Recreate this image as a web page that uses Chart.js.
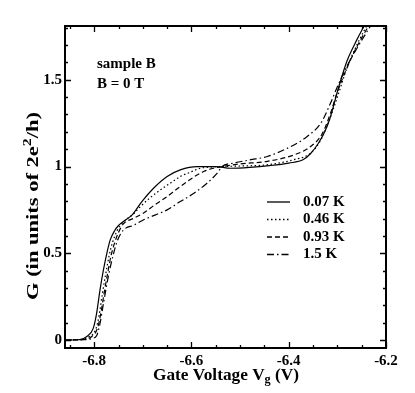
<!DOCTYPE html>
<html>
<head>
<meta charset="utf-8">
<script src="https://cdn.jsdelivr.net/npm/chart.js@4.4.1/dist/chart.umd.min.js"></script>
<style>
  html, body { margin: 0; padding: 0; background: #fff; }
  #wrap { width: 415px; height: 393px; }
</style>
</head>
<body>
<div id="wrap"><canvas id="chart" width="415" height="393"></canvas></div>
<script>
// temperatures (legend labels)
const seriesLabels = ['0.07 K', '0.46 K', '0.93 K', '1.5 K'];

// gate voltage (V) and conductance (2e^2/h) for each temperature
const v007 = [-6.86, -6.83, -6.815, -6.802, -6.795, -6.788, -6.781, -6.774, -6.767, -6.758, -6.750, -6.740, -6.722, -6.702, -6.678, -6.650, -6.623, -6.588, -6.55, -6.52, -6.48, -6.44, -6.40, -6.37, -6.355, -6.34, -6.326, -6.315, -6.305, -6.295, -6.28, -6.26, -6.245];
const g007 = [0, 0.003, 0.02, 0.067, 0.154, 0.289, 0.404, 0.5, 0.577, 0.63, 0.66, 0.683, 0.721, 0.798, 0.875, 0.943, 0.981, 1.0, 1.0, 0.99, 0.995, 1.005, 1.02, 1.04, 1.075, 1.13, 1.2, 1.28, 1.38, 1.48, 1.61, 1.73, 1.81];

const v046 = [-6.86, -6.825, -6.81, -6.797, -6.79, -6.783, -6.776, -6.769, -6.762, -6.753, -6.74, -6.72, -6.705, -6.685, -6.664, -6.643, -6.623, -6.60, -6.582, -6.56, -6.537, -6.50, -6.444, -6.389, -6.355, -6.334, -6.319, -6.30, -6.28, -6.26, -6.24];
const g046 = [0, 0.003, 0.02, 0.06, 0.14, 0.27, 0.385, 0.49, 0.565, 0.63, 0.68, 0.725, 0.769, 0.82, 0.865, 0.905, 0.942, 0.97, 0.99, 0.997, 1.0, 1.003, 1.01, 1.04, 1.077, 1.154, 1.25, 1.40, 1.57, 1.70, 1.81];

const v093 = [-6.86, -6.822, -6.805, -6.793, -6.786, -6.779, -6.772, -6.765, -6.758, -6.75, -6.74, -6.72, -6.699, -6.675, -6.65, -6.63, -6.609, -6.592, -6.575, -6.555, -6.537, -6.50, -6.444, -6.389, -6.355, -6.331, -6.314, -6.30, -6.28, -6.26, -6.236];
const g093 = [0, 0.003, 0.02, 0.07, 0.16, 0.28, 0.39, 0.49, 0.56, 0.62, 0.67, 0.70, 0.731, 0.78, 0.827, 0.87, 0.913, 0.945, 0.971, 0.99, 1.0, 1.015, 1.03, 1.067, 1.115, 1.19, 1.308, 1.43, 1.57, 1.69, 1.81];

const v150 = [-6.86, -6.82, -6.803, -6.795, -6.788, -6.781, -6.771, -6.760, -6.753, -6.745, -6.735, -6.72, -6.699, -6.675, -6.65, -6.623, -6.595, -6.568, -6.547, -6.537, -6.513, -6.48, -6.444, -6.396, -6.362, -6.334, -6.314, -6.30, -6.28, -6.26, -6.232];
const g150 = [0, 0.002, 0.01, 0.025, 0.096, 0.21, 0.365, 0.5, 0.567, 0.615, 0.645, 0.66, 0.692, 0.72, 0.75, 0.798, 0.846, 0.904, 0.962, 1.0, 1.02, 1.038, 1.058, 1.115, 1.173, 1.25, 1.366, 1.46, 1.58, 1.68, 1.81];

// axis tick labels
const xTicks = [-6.8, -6.6, -6.4, -6.2];
const yTicks = [0, 0.5, 1, 1.5];

const dashes = [[], [1.5, 2.5], [5, 3], [7, 3, 1.5, 3]];
const FONT = '"Liberation Serif", "Times New Roman", serif';

function pts(vs, gs) {
    return vs.map(function (v, i) { return { x: v, y: gs[i] }; });
}

const allSeries = [pts(v007, g007), pts(v046, g046), pts(v093, g093), pts(v150, g150)];

// draws a run of [text, size, dy] pieces starting at x, returns total width
function drawPieces(ctx, pieces, x, y, measureOnly) {
    let w = 0;
    pieces.forEach(function (p) {
        ctx.font = 'bold ' + p[1] + 'px ' + FONT;
        if (!measureOnly) ctx.fillText(p[0], x + w, y + p[2]);
        w += ctx.measureText(p[0]).width;
    });
    return w;
}

// frame, inward ticks, titles, note and legend drawn by hand
const decor = {
    id: 'decor',
    afterDraw: function (chart) {
        const ctx = chart.ctx;
        const a = chart.chartArea;
        const xs = chart.scales.x, ys = chart.scales.y;
        ctx.save();
        ctx.strokeStyle = '#000';
        ctx.fillStyle = '#000';

        // ticks on all four sides, pointing in
        ctx.lineWidth = 1.3;
        ctx.beginPath();
        for (let k = -137; k <= -124; k++) {
            const v = k * 0.05;
            if (v < xs.min - 1e-9 || v > xs.max + 1e-9) continue;
            const px = Math.round(xs.getPixelForValue(v)) + 0.5;
            const major = Math.abs(Math.round(v * 5) - v * 5) < 1e-6;
            const len = major ? 6 : 3;
            ctx.moveTo(px, a.bottom); ctx.lineTo(px, a.bottom - len);
            ctx.moveTo(px, a.top); ctx.lineTo(px, a.top + len);
        }
        for (let k = 0; k <= 18; k++) {
            const v = k * 0.1;
            if (v > ys.max + 1e-9) continue;
            const py = Math.round(ys.getPixelForValue(v)) + 0.5;
            const len = (k % 5 === 0) ? 6 : 3;
            ctx.moveTo(a.left, py); ctx.lineTo(a.left + len, py);
            ctx.moveTo(a.right, py); ctx.lineTo(a.right - len, py);
        }
        ctx.stroke();

        // frame
        ctx.lineWidth = 2;
        ctx.strokeRect(a.left, a.top, a.right - a.left, a.bottom - a.top);

        // x title with subscript
        ctx.textBaseline = 'alphabetic';
        const xt = [['Gate Voltage V', 17, 0], ['g', 12, 3], [' (V)', 17, 0]];
        const xw = drawPieces(ctx, xt, 0, 0, true);
        ctx.save();
        ctx.translate(226, 380);
        ctx.scale(146 / xw, 1);
        drawPieces(ctx, xt, -xw / 2, 0, false);
        ctx.restore();

        // y title with superscript, rotated and stretched to the reference length
        const yt = [['G (in units of 2e', 17, 0], ['2', 12, -7], ['/h)', 17, 0]];
        const yw = drawPieces(ctx, yt, 0, 0, true);
        ctx.save();
        ctx.translate(38, 206);
        ctx.rotate(-Math.PI / 2);
        ctx.scale(188 / yw, 1);
        drawPieces(ctx, yt, -yw / 2, 0, false);
        ctx.restore();

        // note
        ctx.font = 'bold 15px ' + FONT;
        ctx.textBaseline = 'middle';
        ctx.fillText('sample B', 97, 64);
        ctx.fillText('B = 0 T', 97, 84);

        // legend
        ctx.lineWidth = 1.3;
        for (let i = 0; i < seriesLabels.length; i++) {
            const ly = 202 + i * 17.5;
            ctx.setLineDash(dashes[i]);
            ctx.beginPath();
            ctx.moveTo(267, ly); ctx.lineTo(290, ly);
            ctx.stroke();
            ctx.setLineDash([]);
            ctx.fillText(seriesLabels[i], 303, ly);
        }
        ctx.restore();
    }
};

const ctx = document.getElementById('chart').getContext('2d');
const chart = new Chart(ctx, {
    type: 'line',
    data: {
        datasets: allSeries.map(function (d, i) {
            return {
                label: seriesLabels[i],
                data: d,
                borderColor: '#000',
                borderWidth: 1.2,
                borderDash: dashes[i],
                pointRadius: 0,
                fill: false,
                cubicInterpolationMode: 'monotone'
            };
        })
    },
    options: {
        responsive: false,
        animation: false,
        layout: { padding: { left: 0, right: 29, top: 26, bottom: 0 } },
        plugins: {
            legend: { display: false },
            tooltip: { enabled: false }
        },
        scales: {
            x: {
                type: 'linear',
                min: -6.86,
                max: -6.2,
                afterFit: function (s) { s.height = 45; },
                afterBuildTicks: function (s) { s.ticks = xTicks.map(function (v) { return { value: v }; }); },
                grid: { display: false, drawTicks: false },
                border: { display: false },
                ticks: {
                    color: '#000',
                    padding: 4,
                    font: { family: FONT, size: 15, weight: 'bold' },
                    callback: function (v) { return v.toFixed(1); }
                }
            },
            y: {
                type: 'linear',
                min: -0.046,
                max: 1.81,
                afterFit: function (s) { s.width = 65; },
                afterBuildTicks: function (s) { s.ticks = yTicks.map(function (v) { return { value: v }; }); },
                grid: { display: false, drawTicks: false },
                border: { display: false },
                ticks: {
                    color: '#000',
                    padding: 3,
                    font: { family: FONT, size: 15, weight: 'bold' },
                    callback: function (v) { return String(v); }
                }
            }
        }
    },
    plugins: [decor]
});
</script>
</body>
</html>
